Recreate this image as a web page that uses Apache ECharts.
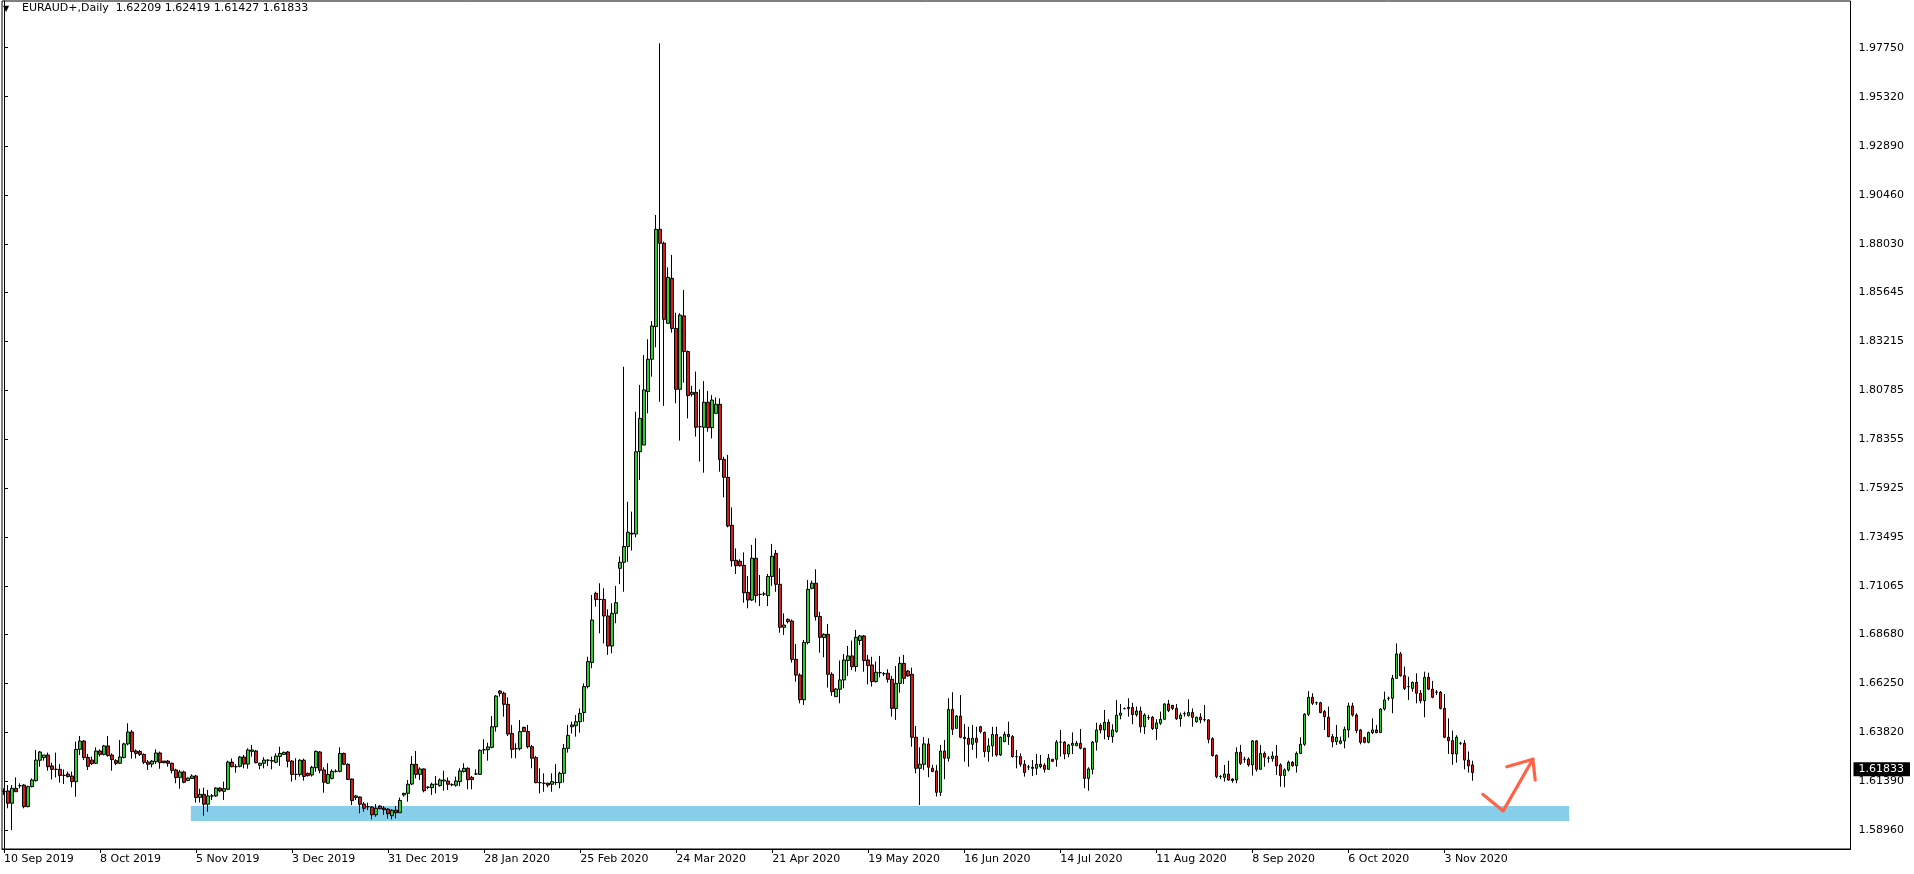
<!DOCTYPE html>
<html>
<head>
<meta charset="utf-8">
<script src="https://cdn.jsdelivr.net/npm/echarts@6/dist/echarts.min.js"></script>
<style>
html,body{margin:0;padding:0;background:#ffffff;}
#chart{width:1914px;height:874px;}
</style>
</head>
<body>
<div id="chart"></div>
<script>
// ---- header / meta ----
const symbolName = 'EURAUD+';
const timeframe = 'Daily';

// ---- y-axis tick labels (right price scale) ----
const yTickLabels = ['1.58960','1.61390','1.63820','1.66250','1.68680','1.71065','1.73495','1.75925','1.78355','1.80785','1.83215','1.85645','1.88030','1.90460','1.92890','1.95320','1.97750'];

// ---- x-axis tick labels ----
const xTickLabels = ['10 Sep 2019','8 Oct 2019','5 Nov 2019','3 Dec 2019','31 Dec 2019','28 Jan 2020','25 Feb 2020','24 Mar 2020','21 Apr 2020','19 May 2020','16 Jun 2020','14 Jul 2020','11 Aug 2020','8 Sep 2020','6 Oct 2020','3 Nov 2020'];

// ---- daily candles [open, close, low, high] (Sun..Fri bars) ----
const sep2019 = [
[1.6089,1.6090,1.6072,1.6105],[1.6092,1.6031,1.6006,1.6121],[1.6031,1.6105,1.5898,1.6121],[1.6105,1.6088,1.6088,1.6159],
[1.6118,1.6118,1.6105,1.6130],[1.6121,1.6014,1.6006,1.6125],[1.6014,1.6113,1.6011,1.6118],[1.6113,1.6146,1.6110,1.6154],
[1.6143,1.6245,1.6138,1.6295],[1.6244,1.6285,1.6212,1.6290],[1.6257,1.6270,1.6242,1.6270],[1.6270,1.6212,1.6192,1.6282],
[1.6216,1.6199,1.6149,1.6232],[1.6199,1.6199,1.6159,1.6282],[1.6199,1.6169,1.6133,1.6225],[1.6169,1.6169,1.6126,1.6199],
[1.6176,1.6163,1.6159,1.6188],[1.6166,1.6138,1.6110,1.6188]
];
const oct2019 = [
[1.6138,1.6298,1.6063,1.6336],[1.6298,1.6339,1.6270,1.6364],[1.6339,1.6257,1.6245,1.6344],[1.6258,1.6214,1.6196,1.6275],
[1.6245,1.6227,1.6220,1.6262],[1.6229,1.6290,1.6225,1.6308],[1.6290,1.6273,1.6262,1.6298],[1.6273,1.6315,1.6268,1.6320],
[1.6315,1.6267,1.6262,1.6364],[1.6270,1.6247,1.6192,1.6278],[1.6242,1.6229,1.6220,1.6249],[1.6229,1.6260,1.6225,1.6344],
[1.6258,1.6325,1.6253,1.6331],[1.6325,1.6384,1.6318,1.6427],[1.6384,1.6287,1.6252,1.6394],[1.6290,1.6278,1.6253,1.6298],
[1.6287,1.6273,1.6265,1.6295],[1.6273,1.6234,1.6225,1.6278],[1.6235,1.6224,1.6196,1.6245],[1.6225,1.6240,1.6209,1.6245],
[1.6237,1.6280,1.6225,1.6298],[1.6280,1.6232,1.6202,1.6287],[1.6240,1.6232,1.6229,1.6240],[1.6240,1.6229,1.6212,1.6245],
[1.6229,1.6194,1.6179,1.6232],[1.6196,1.6158,1.6130,1.6202],[1.6159,1.6186,1.6103,1.6196]
];
const nov2019 = [
[1.6186,1.6135,1.6130,1.6192],[1.6144,1.6156,1.6140,1.6159],[1.6154,1.6166,1.6151,1.6174],[1.6166,1.6059,1.6034,1.6171],
[1.6060,1.6075,1.6035,1.6103],[1.6075,1.6026,1.5969,1.6108],[1.6026,1.6067,1.5989,1.6097],[1.6067,1.6067,1.6047,1.6077],
[1.6067,1.6106,1.6063,1.6110],[1.6106,1.6092,1.6085,1.6110],[1.6090,1.6103,1.6047,1.6138],[1.6100,1.6235,1.6097,1.6242],
[1.6235,1.6212,1.6209,1.6253],[1.6212,1.6212,1.6182,1.6225],[1.6214,1.6260,1.6209,1.6265],[1.6260,1.6225,1.6204,1.6270],
[1.6225,1.6295,1.6202,1.6303],[1.6288,1.6295,1.6262,1.6320],[1.6290,1.6232,1.6229,1.6295],[1.6219,1.6229,1.6199,1.6232],
[1.6229,1.6245,1.6204,1.6259],[1.6244,1.6244,1.6216,1.6249],[1.6240,1.6242,1.6199,1.6262],[1.6234,1.6265,1.6229,1.6278],
[1.6263,1.6278,1.6216,1.6311]
];
const dec2019 = [
[1.6273,1.6283,1.6270,1.6287],[1.6285,1.6239,1.6209,1.6290],[1.6240,1.6174,1.6138,1.6245],[1.6174,1.6174,1.6146,1.6254],
[1.6174,1.6244,1.6163,1.6249],[1.6244,1.6164,1.6143,1.6252],[1.6179,1.6168,1.6163,1.6183],[1.6171,1.6209,1.6163,1.6216],
[1.6207,1.6288,1.6187,1.6292],[1.6285,1.6194,1.6179,1.6290],[1.6196,1.6135,1.6083,1.6209],[1.6130,1.6174,1.6126,1.6229],
[1.6154,1.6189,1.6149,1.6199],[1.6189,1.6189,1.6183,1.6199],[1.6189,1.6278,1.6184,1.6308],[1.6278,1.6224,1.6220,1.6282],
[1.6224,1.6149,1.6146,1.6229],[1.6151,1.6044,1.6022,1.6154],[1.6060,1.6067,1.6047,1.6072],[1.6062,1.6026,1.5981,1.6065],
[1.6027,1.6006,1.5989,1.6037],[1.6014,1.6014,1.5997,1.6034],[1.6012,1.5974,1.5951,1.6017],[1.5974,1.6006,1.5964,1.6027],
[1.6017,1.6004,1.6001,1.6021],[1.6007,1.5999,1.5973,1.6017],[1.6002,1.5979,1.5955,1.6006]
];
const jan2020 = [
[1.5969,1.5996,1.5951,1.6001],[1.5996,1.5984,1.5956,1.6017],[1.5984,1.6045,1.5984,1.6059],[1.6072,1.6080,1.6064,1.6083],
[1.6080,1.6125,1.6039,1.6146],[1.6126,1.6224,1.6121,1.6265],[1.6224,1.6174,1.6154,1.6290],[1.6174,1.6201,1.6146,1.6209],
[1.6201,1.6093,1.6085,1.6204],[1.6110,1.6110,1.6100,1.6116],[1.6108,1.6125,1.6072,1.6133],[1.6125,1.6125,1.6080,1.6166],
[1.6118,1.6146,1.6113,1.6154],[1.6141,1.6146,1.6093,1.6192],[1.6141,1.6125,1.6097,1.6159],[1.6123,1.6123,1.6116,1.6130],
[1.6120,1.6141,1.6113,1.6163],[1.6138,1.6191,1.6116,1.6204],[1.6188,1.6204,1.6183,1.6229],[1.6204,1.6148,1.6100,1.6209],
[1.6159,1.6148,1.6100,1.6166],[1.6176,1.6176,1.6171,1.6199],[1.6174,1.6293,1.6171,1.6298],[1.6296,1.6296,1.6275,1.6348],
[1.6296,1.6310,1.6242,1.6331],[1.6308,1.6410,1.6303,1.6463],[1.6410,1.6562,1.6386,1.6567]
];
const feb2020 = [
[1.6587,1.6576,1.6559,1.6592],[1.6576,1.6521,1.6460,1.6584],[1.6521,1.6374,1.6364,1.6556],[1.6377,1.6298,1.6254,1.6419],
[1.6301,1.6301,1.6254,1.6328],[1.6301,1.6386,1.6292,1.6443],[1.6407,1.6386,1.6386,1.6410],[1.6386,1.6311,1.6303,1.6419],
[1.6311,1.6254,1.6204,1.6320],[1.6257,1.6133,1.6130,1.6265],[1.6133,1.6133,1.6080,1.6204],[1.6130,1.6130,1.6088,1.6179],
[1.6130,1.6121,1.6110,1.6133],[1.6125,1.6138,1.6088,1.6179],[1.6133,1.6134,1.6121,1.6225],[1.6133,1.6179,1.6105,1.6187],
[1.6179,1.6303,1.6133,1.6324],[1.6303,1.6367,1.6282,1.6419],[1.6410,1.6419,1.6377,1.6435],[1.6415,1.6435,1.6361,1.6468],
[1.6435,1.6476,1.6381,1.6501],[1.6480,1.6609,1.6435,1.6625],[1.6609,1.6733,1.6600,1.6757],[1.6729,1.6939,1.6700,1.7063]
];
const mar2020 = [
[1.7071,1.7041,1.7005,1.7079],[1.7041,1.7041,1.6873,1.7121],[1.7041,1.6959,1.6823,1.7096],[1.6959,1.6810,1.6766,1.6992],
[1.6810,1.6972,1.6774,1.7022],[1.6972,1.7025,1.6923,1.7108],[1.7195,1.7225,1.7117,1.7254],[1.7225,1.7303,1.7079,1.8194],
[1.7303,1.7374,1.7228,1.7525],[1.7369,1.7365,1.7283,1.7476],[1.7365,1.7773,1.7349,1.7971],[1.7773,1.7938,1.7633,1.8104],
[1.7806,1.8079,1.7806,1.8252],[1.8071,1.8231,1.7963,1.8330],[1.8231,1.8396,1.8145,1.8421],[1.8393,1.8875,1.8290,1.8946],
[1.8875,1.8806,1.8021,1.9797],[1.8806,1.8429,1.8000,1.8814],[1.8409,1.8637,1.8409,1.8687],[1.8632,1.8384,1.8363,1.8748],
[1.8384,1.8082,1.8013,1.8462],[1.8082,1.8450,1.7828,1.8459],[1.8446,1.8269,1.8115,1.8574],[1.8269,1.8051,1.7938,1.8274],
[1.8057,1.8067,1.8046,1.8099],[1.8067,1.7894,1.7848,1.8170],[1.7897,1.7897,1.7724,1.8082]
];
const apr2020 = [
[1.7894,1.8018,1.7669,1.8123],[1.8018,1.7892,1.7872,1.8074],[1.7892,1.8029,1.7839,1.8054],[1.7963,1.8008,1.7963,1.8042],
[1.8008,1.7735,1.7674,1.8037],[1.7735,1.7646,1.7547,1.7748],[1.7646,1.7405,1.7398,1.7757],[1.7408,1.7233,1.7203,1.7497],
[1.7235,1.7208,1.7167,1.7294],[1.7230,1.7208,1.7203,1.7240],[1.7210,1.7074,1.7025,1.7274],[1.7076,1.7038,1.6997,1.7157],
[1.7038,1.7245,1.7033,1.7311],[1.7245,1.7060,1.7025,1.7344],[1.7066,1.7066,1.7008,1.7162],[1.7068,1.7068,1.7058,1.7079],
[1.7060,1.7155,1.7008,1.7167],[1.7155,1.7255,1.7108,1.7316],[1.7269,1.7116,1.7079,1.7286],[1.7116,1.6903,1.6876,1.7195],
[1.6903,1.6914,1.6865,1.6972],[1.6942,1.6931,1.6922,1.6947],[1.6934,1.6744,1.6728,1.6942],[1.6744,1.6666,1.6633,1.6820],
[1.6666,1.6544,1.6526,1.6675],[1.6544,1.6828,1.6518,1.6840]
];
const may2020 = [
[1.6827,1.7091,1.6818,1.7137],[1.7096,1.7121,1.7091,1.7134],[1.7121,1.6956,1.6936,1.7190],[1.6956,1.6853,1.6777,1.6980],
[1.6852,1.6868,1.6754,1.6873],[1.6868,1.6670,1.6604,1.6919],[1.6670,1.6584,1.6563,1.6680],[1.6559,1.6597,1.6559,1.6601],
[1.6596,1.6642,1.6526,1.6738],[1.6642,1.6741,1.6601,1.6771],[1.6738,1.6761,1.6662,1.6810],[1.6761,1.6708,1.6691,1.6837],
[1.6708,1.6853,1.6683,1.6890],[1.6837,1.6860,1.6815,1.6865],[1.6860,1.6738,1.6683,1.6865],[1.6741,1.6713,1.6620,1.6766],
[1.6716,1.6634,1.6609,1.6757],[1.6634,1.6680,1.6629,1.6733],[1.6678,1.6678,1.6655,1.6761],[1.6673,1.6673,1.6662,1.6681],
[1.6675,1.6645,1.6629,1.6695],[1.6645,1.6501,1.6460,1.6662],[1.6501,1.6625,1.6444,1.6711],[1.6625,1.6724,1.6579,1.6757],
[1.6724,1.6650,1.6622,1.6766],[1.6686,1.6662,1.6658,1.6691]
];
const jun2020 = [
[1.6670,1.6358,1.6311,1.6703],[1.6358,1.6204,1.6179,1.6414],[1.6204,1.6224,1.6022,1.6308],[1.6224,1.6325,1.6196,1.6359],
[1.6325,1.6209,1.6160,1.6353],[1.6204,1.6188,1.6188,1.6221],[1.6191,1.6085,1.6064,1.6221],[1.6085,1.6290,1.6067,1.6320],
[1.6290,1.6254,1.6150,1.6344],[1.6254,1.6496,1.6237,1.6551],[1.6496,1.6397,1.6369,1.6581],[1.6402,1.6463,1.6402,1.6468],
[1.6463,1.6358,1.6353,1.6567],[1.6358,1.6351,1.6237,1.6424],[1.6353,1.6323,1.6212,1.6410],[1.6323,1.6353,1.6295,1.6419],
[1.6353,1.6333,1.6254,1.6410],[1.6410,1.6386,1.6377,1.6414],[1.6382,1.6287,1.6259,1.6386],[1.6287,1.6315,1.6237,1.6353],
[1.6315,1.6372,1.6262,1.6410],[1.6372,1.6270,1.6262,1.6410],[1.6270,1.6358,1.6265,1.6361],[1.6336,1.6372,1.6334,1.6386],
[1.6372,1.6361,1.6320,1.6435],[1.6361,1.6262,1.6257,1.6369]
];
const jul2020 = [
[1.6262,1.6262,1.6204,1.6295],[1.6262,1.6224,1.6212,1.6278],[1.6224,1.6183,1.6163,1.6245],[1.6211,1.6211,1.6196,1.6221],
[1.6209,1.6204,1.6166,1.6245],[1.6204,1.6224,1.6171,1.6275],[1.6224,1.6212,1.6204,1.6270],[1.6219,1.6199,1.6183,1.6229],
[1.6199,1.6254,1.6199,1.6275],[1.6249,1.6239,1.6235,1.6249],[1.6249,1.6334,1.6212,1.6344],[1.6334,1.6334,1.6262,1.6394],
[1.6334,1.6275,1.6249,1.6339],[1.6275,1.6320,1.6259,1.6325],[1.6318,1.6328,1.6275,1.6382],[1.6316,1.6328,1.6315,1.6339],
[1.6328,1.6303,1.6298,1.6399],[1.6303,1.6154,1.6105,1.6306],[1.6154,1.6201,1.6093,1.6209],[1.6199,1.6334,1.6174,1.6339],
[1.6334,1.6394,1.6292,1.6430],[1.6417,1.6394,1.6377,1.6427],[1.6394,1.6432,1.6348,1.6493],[1.6432,1.6361,1.6344,1.6447],
[1.6361,1.6394,1.6331,1.6422],[1.6386,1.6467,1.6381,1.6543],[1.6467,1.6478,1.6447,1.6523]
];
const aug2020 = [
[1.6500,1.6500,1.6496,1.6505],[1.6506,1.6500,1.6460,1.6551],[1.6506,1.6470,1.6422,1.6529],[1.6470,1.6488,1.6460,1.6510],
[1.6488,1.6410,1.6381,1.6510],[1.6410,1.6468,1.6374,1.6477],[1.6455,1.6455,1.6444,1.6468],[1.6457,1.6401,1.6394,1.6463],
[1.6401,1.6429,1.6344,1.6447],[1.6427,1.6447,1.6419,1.6485],[1.6447,1.6523,1.6444,1.6526],[1.6523,1.6490,1.6483,1.6543],
[1.6516,1.6501,1.6493,1.6518],[1.6501,1.6450,1.6444,1.6523],[1.6450,1.6468,1.6410,1.6480],[1.6475,1.6475,1.6460,1.6485],
[1.6466,1.6481,1.6460,1.6546],[1.6481,1.6457,1.6410,1.6501],[1.6435,1.6457,1.6430,1.6460],[1.6457,1.6444,1.6427,1.6477],
[1.6445,1.6445,1.6435,1.6518],[1.6444,1.6348,1.6328,1.6447],[1.6351,1.6267,1.6262,1.6358],[1.6268,1.6163,1.6155,1.6273],
[1.6163,1.6163,1.6150,1.6171],[1.6159,1.6176,1.6138,1.6221]
];
const sep2020 = [
[1.6176,1.6146,1.6143,1.6242],[1.6151,1.6143,1.6133,1.6155],[1.6146,1.6283,1.6130,1.6308],[1.6283,1.6229,1.6221,1.6320],
[1.6249,1.6249,1.6232,1.6262],[1.6249,1.6221,1.6212,1.6258],[1.6221,1.6340,1.6168,1.6344],[1.6340,1.6199,1.6188,1.6344],
[1.6199,1.6278,1.6196,1.6320],[1.6278,1.6259,1.6212,1.6287],[1.6254,1.6254,1.6232,1.6265],[1.6252,1.6265,1.6237,1.6287],
[1.6265,1.6216,1.6171,1.6320],[1.6221,1.6168,1.6113,1.6229],[1.6168,1.6196,1.6110,1.6204],[1.6196,1.6234,1.6188,1.6242],
[1.6234,1.6217,1.6212,1.6240],[1.6217,1.6278,1.6183,1.6287],[1.6278,1.6323,1.6275,1.6358],[1.6323,1.6472,1.6315,1.6477],
[1.6472,1.6556,1.6463,1.6587],[1.6556,1.6526,1.6518,1.6576],[1.6529,1.6529,1.6518,1.6534],[1.6529,1.6480,1.6477,1.6534],
[1.6485,1.6460,1.6394,1.6493],[1.6457,1.6361,1.6358,1.6510]
];
const oct2020 = [
[1.6361,1.6336,1.6308,1.6374],[1.6336,1.6358,1.6320,1.6419],[1.6328,1.6340,1.6323,1.6361],[1.6340,1.6397,1.6303,1.6411],
[1.6394,1.6513,1.6356,1.6529],[1.6513,1.6468,1.6460,1.6529],[1.6468,1.6391,1.6378,1.6477],[1.6394,1.6333,1.6323,1.6399],
[1.6356,1.6333,1.6328,1.6361],[1.6333,1.6381,1.6328,1.6386],[1.6381,1.6394,1.6374,1.6452],[1.6394,1.6381,1.6378,1.6419],
[1.6381,1.6498,1.6381,1.6501],[1.6498,1.6543,1.6490,1.6584],[1.6551,1.6551,1.6539,1.6559],[1.6551,1.6650,1.6477,1.6667],
[1.6650,1.6771,1.6650,1.6823],[1.6771,1.6663,1.6658,1.6781],[1.6663,1.6600,1.6592,1.6708],[1.6609,1.6609,1.6543,1.6658],
[1.6600,1.6630,1.6584,1.6634],[1.6630,1.6576,1.6526,1.6675],[1.6576,1.6539,1.6526,1.6592],[1.6539,1.6655,1.6457,1.6683],
[1.6655,1.6596,1.6592,1.6678],[1.6596,1.6556,1.6551,1.6637]
];
const nov2020 = [
[1.6581,1.6581,1.6567,1.6592],[1.6581,1.6501,1.6496,1.6587],[1.6501,1.6358,1.6353,1.6572],[1.6358,1.6341,1.6275,1.6452],
[1.6341,1.6275,1.6221,1.6391],[1.6275,1.6358,1.6232,1.6368],[1.6328,1.6328,1.6320,1.6335],[1.6328,1.6245,1.6199,1.6344],
[1.6245,1.6216,1.6183,1.6287],[1.62209,1.61833,1.61427,1.62419]
];

// ---- annotations (in axis units: bar index, price) ----
const supportZone = { x0: 46.7, x1: 391.2, top: 1.6017, bottom: 1.5943 };
const arrowPath = [[369.6, 1.6075], [374.7, 1.5993], [382.1, 1.6249]];
const arrowHead = [[375.6, 1.6212], [382.1, 1.6249], [382.7, 1.6146]];

// ---- build ----
const ohlc = [].concat(sep2019, oct2019, nov2019, dec2019, jan2020, feb2020, mar2020, apr2020,
  may2020, jun2020, jul2020, aug2020, sep2020, oct2020, nov2020);
const TOTAL_BARS = 462; // visible slots incl. right-side chart shift
const MONTHS = ['Jan','Feb','Mar','Apr','May','Jun','Jul','Aug','Sep','Oct','Nov','Dec'];
function barDates(n) {
  const out = [];
  const d = new Date(Date.UTC(2019, 8, 10));
  while (out.length < n) {
    if (d.getUTCDay() !== 6) out.push(d.getUTCDate() + ' ' + MONTHS[d.getUTCMonth()] + ' ' + d.getUTCFullYear());
    d.setUTCDate(d.getUTCDate() + 1);
  }
  return out;
}
const dates = barDates(TOTAL_BARS);
const labelSet = new Set(xTickLabels);
const last = ohlc[ohlc.length - 1];
const lastClose = last[1];
const FONT = 'DejaVu Sans';

const yValues = yTickLabels.map(Number);
const yMax = 2.00064, yMin = 1.58042;

const chart = echarts.init(document.getElementById('chart'), null, { renderer: 'canvas' });
chart.setOption({
  animation: false,
  backgroundColor: '#ffffff',
  title: {
    left: 3, top: 3, padding: 0,
    text: '{tri|▼}{t|' + symbolName + ',' + timeframe + '  ' + last[0].toFixed(5) + ' ' + last[3].toFixed(5) + ' ' + last[2].toFixed(5) + ' ' + last[1].toFixed(5) + '}',
    textStyle: {
      fontWeight: 'normal',
      rich: {
        tri: { fontFamily: FONT, fontSize: 8, fontWeight: 'normal', color: '#000', width: 19 },
        t: { fontFamily: FONT, fontSize: 11, fontWeight: 'normal', color: '#000' }
      }
    }
  },
  grid: { left: 2, right: 63.5, top: 1, bottom: 25, show: true, borderColor: '#000', borderWidth: 1, containLabel: false },
  xAxis: [{
    type: 'category', data: dates, boundaryGap: true,
    axisLine: { show: true, lineStyle: { color: '#000', width: 1 } },
    axisTick: { show: true, alignWithLabel: true, length: 4, lineStyle: { color: '#000' },
      interval: function (i, v) { return labelSet.has(v); } },
    axisLabel: { show: true, align: 'left', margin: 5, color: '#000', fontFamily: FONT, fontSize: 11,
      interval: function (i, v) { return labelSet.has(v); } },
    splitLine: { show: false }
  }, {
    type: 'value', min: -0.5, max: TOTAL_BARS - 0.5, show: false
  }],
  yAxis: {
    type: 'value', position: 'right', min: yMin, max: yMax, scale: true,
    axisLine: { show: true, lineStyle: { color: '#000', width: 1 } },
    axisTick: { show: true, length: 4, lineStyle: { color: '#000' }, customValues: yValues },
    axisLabel: { show: true, margin: 8, color: '#000', fontFamily: FONT, fontSize: 11, customValues: yValues,
      formatter: function (v) { const i = yValues.findIndex(function (t) { return Math.abs(t - v) < 1e-7; }); return i >= 0 ? yTickLabels[i] : ''; } },
    splitLine: { show: false }
  },
  series: [
    {
      type: 'line', xAxisIndex: 1, yAxisIndex: 0, z: 1, silent: true,
      data: [[supportZone.x0, supportZone.bottom]], showSymbol: false, symbol: 'none',
      lineStyle: { width: 0, opacity: 0 },
      markArea: {
        silent: true,
        itemStyle: { color: '#87CEEB', opacity: 1 },
        data: [[{ xAxis: supportZone.x0, yAxis: supportZone.top }, { xAxis: supportZone.x1, yAxis: supportZone.bottom }]]
      }
    },
    {
      type: 'candlestick', xAxisIndex: 0, yAxisIndex: 0, z: 2,
      data: ohlc, barWidth: 3,
      itemStyle: { color: '#2FCB2F', color0: '#D01C1C', borderColor: '#000', borderColor0: '#000', borderWidth: 1 },
      markLine: {
        silent: true, symbol: ['none', 'none'], animation: false,
        lineStyle: { width: 0, color: 'rgba(0,0,0,0)' },
        label: { show: true, position: 'end', distance: 3, formatter: lastClose.toFixed(5),
          backgroundColor: '#000', color: '#fff', fontFamily: FONT, fontSize: 11, lineHeight: 13, padding: [1, 6, 0, 5] },
        emphasis: { disabled: true },
        data: [{ yAxis: lastClose }]
      }
    },
    {
      type: 'line', xAxisIndex: 1, yAxisIndex: 0, z: 3, silent: true,
      data: arrowPath, showSymbol: false, symbol: 'none',
      lineStyle: { color: '#FF6347', width: 3.2, cap: 'round', join: 'round' }
    },
    {
      type: 'line', xAxisIndex: 1, yAxisIndex: 0, z: 3, silent: true,
      data: arrowHead, showSymbol: false, symbol: 'none',
      lineStyle: { color: '#FF6347', width: 3.2, cap: 'round', join: 'round' }
    }
  ]
});
</script>
</body>
</html>
